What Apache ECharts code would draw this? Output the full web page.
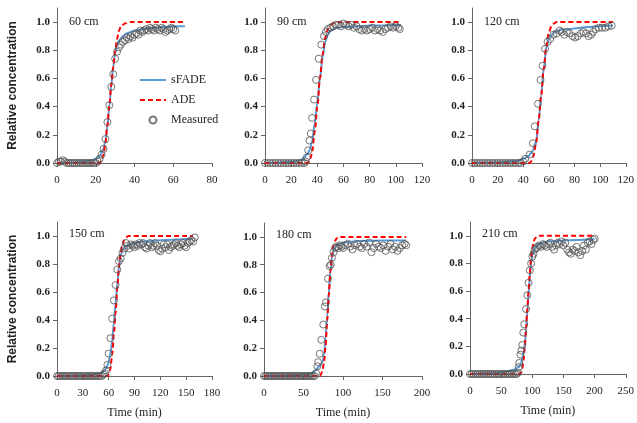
<!DOCTYPE html>
<html>
<head>
<meta charset="utf-8">
<script src="https://cdn.jsdelivr.net/npm/echarts@6/dist/echarts.min.js"></script>
<style>
html, body { margin: 0; padding: 0; background: #fff; }
#chart { width: 637px; height: 423px; }
</style>
</head>
<body>
<div id="chart"></div>
<script>
// panel labels (depth)
var depths = ['60 cm', '90 cm', '120 cm', '150 cm', '180 cm', '210 cm'];
var xMaxes = [80, 120, 120, 180, 200, 250];
var xSteps = [20, 20, 20, 30, 50, 50];
var yTicks = [0, 0.2, 0.4, 0.6, 0.8, 1.0];

// measured [time, C/C0]
var meas60 = [[0,0.0],[1,0.01],[2,0.01],[3,0.02],[4,0.01],[5,0],[6,0],[7,0],[8,0],[9,0],[10,0],[11,0],[12,0],[13,0],[14,0],[15,0],[16,0],[17,0],[18,0],[19,0],[20,0],[21,0.01],[22,0.03],[23,0.06],[24,0.1],[25,0.17],[26,0.29],[27,0.41],[28,0.54],[29,0.63],[30,0.74],[31,0.79],[32,0.82],[33,0.84],[34,0.86],[35,0.87],[36,0.89],[37,0.88],[38,0.9],[39,0.89],[40,0.91],[41,0.92],[42,0.91],[43,0.94],[44,0.93],[45,0.94],[46,0.95],[47,0.94],[48,0.96],[49,0.95],[50,0.94],[51,0.96],[52,0.95],[53,0.94],[54,0.96],[55,0.95],[56,0.93],[57,0.94],[58,0.95],[59,0.96],[60,0.95],[61,0.94]];
var meas90 = [[0,0],[2,0],[4,0],[6,0],[8,0],[10,0],[12,0],[14,0],[16,0],[18,0],[20,0],[22,0],[24,0],[26,0],[28,0],[30,0],[31,0.01],[32,0.04],[33,0.09],[34,0.16],[35,0.21],[36,0.32],[37.5,0.45],[39,0.59],[41,0.74],[43,0.84],[45,0.9],[46.5,0.93],[48,0.95],[50,0.96],[52,0.97],[54,0.98],[56,0.98],[58,0.97],[60,0.99],[62,0.98],[64,0.97],[66,0.98],[68,0.96],[70,0.97],[72,0.95],[74,0.94],[76,0.95],[78,0.94],[80,0.95],[82,0.96],[84,0.94],[86,0.95],[88,0.94],[90,0.93],[92,0.95],[94,0.96],[96,0.97],[98,0.96],[100,0.97],[102,0.96],[103,0.95]];
var meas120 = [[0,0],[2,0],[4,0],[6,0],[8,0],[10,0],[12,0],[14,0],[16,0],[18,0],[20,0],[22,0],[24,0],[26,0],[28,0],[30,0],[32,0],[34,0],[36,0],[38,0],[40,0.01],[41.5,0.03],[45,0.06],[47.5,0.14],[49,0.26],[51.5,0.42],[53.5,0.59],[55,0.69],[57,0.81],[59,0.86],[61,0.88],[63.5,0.91],[66,0.92],[68.5,0.94],[70,0.93],[72,0.91],[74,0.93],[76,0.92],[78.5,0.9],[80.5,0.89],[82.5,0.9],[85,0.92],[87,0.93],[89,0.92],[91,0.9],[93,0.91],[94.5,0.93],[96.5,0.95],[99,0.96],[101.5,0.96],[104,0.96],[106.5,0.97],[109,0.975]];
var meas150 = [[0,0],[2,0],[4,0],[6,0],[8,0],[10,0],[12,0],[14,0],[16,0],[18,0],[20,0],[22,0],[24,0],[26,0],[28,0],[30,0],[32,0],[34,0],[36,0],[38,0],[40,0],[42,0],[44,0],[46,0],[48,0],[50,0],[52,0],[54,0.01],[55.5,0.02],[57,0.04],[58.5,0.08],[60,0.16],[62,0.27],[64,0.41],[66,0.54],[68,0.65],[70,0.76],[72,0.82],[74,0.84],[76,0.88],[78,0.91],[80,0.95],[82,0.93],[84,0.91],[86,0.94],[88,0.93],[90,0.92],[92,0.94],[94,0.93],[96,0.95],[98,0.94],[100,0.95],[102,0.92],[104,0.91],[106,0.93],[108,0.95],[110,0.92],[112,0.93],[114,0.95],[116,0.93],[118,0.9],[120,0.89],[122,0.91],[124,0.94],[126,0.92],[128,0.94],[130,0.9],[132,0.92],[134,0.93],[136,0.94],[138,0.95],[140,0.93],[142,0.92],[144,0.94],[146,0.95],[148,0.93],[150,0.92],[152,0.95],[154,0.96],[156,0.97],[158,0.96],[160,0.99]];
var meas180 = [[0,0],[2,0],[4,0],[6,0],[8,0],[10,0],[12,0],[14,0],[16,0],[18,0],[20,0],[22,0],[24,0],[26,0],[28,0],[30,0],[32,0],[34,0],[36,0],[38,0],[40,0],[42,0],[44,0],[46,0],[48,0],[50,0],[52,0],[54,0],[56,0],[58,0],[60,0],[62,0],[64,0],[66,0.02],[67.5,0.07],[68.5,0.1],[70.5,0.16],[72.5,0.26],[75,0.37],[77,0.5],[78.5,0.53],[81,0.7],[83,0.79],[84.5,0.8],[86,0.85],[88,0.89],[90,0.92],[92,0.93],[94,0.92],[96,0.94],[98,0.93],[100,0.92],[103,0.94],[106,0.95],[109,0.93],[112,0.91],[115,0.94],[118,0.95],[121,0.93],[124,0.92],[127,0.95],[130,0.93],[133,0.96],[136,0.89],[139,0.92],[142,0.95],[145,0.93],[148,0.92],[151,0.94],[154,0.9],[157,0.93],[160,0.95],[163,0.91],[166,0.93],[169,0.9],[172,0.92],[175,0.94],[178,0.95],[180,0.94]];
var meas210 = [[0,0],[3,0],[6,0],[9,0],[12,0],[15,0],[18,0],[21,0],[24,0],[27,0],[30,0],[33,0],[36,0],[39,0],[42,0],[45,0],[48,0],[51,0],[54,0],[57,0],[60,0],[63,0],[66,0],[69,0],[72,0],[75,0],[77,0.01],[78,0.05],[79,0.08],[81,0.14],[82.5,0.17],[84,0.21],[85.5,0.3],[87,0.36],[90,0.47],[92,0.57],[94,0.66],[96,0.75],[98,0.8],[100,0.85],[102,0.87],[104,0.9],[106,0.91],[108,0.92],[111,0.93],[114,0.92],[117,0.94],[120,0.93],[123,0.92],[126,0.94],[129,0.95],[132,0.92],[135,0.9],[138,0.93],[141,0.95],[144,0.94],[147,0.96],[150,0.93],[153,0.95],[156,0.9],[159,0.88],[162,0.87],[165,0.9],[168,0.89],[171,0.92],[174,0.88],[177,0.86],[180,0.89],[183,0.93],[186,0.9],[189,0.95],[192,0.96],[195,0.94],[198,0.97],[200,0.98]];

// sFADE model curves
var sfade60 = [[0,0],[5,0.002],[10,0.005],[15,0.01],[18,0.02],[20,0.03],[22,0.05],[24,0.1],[25,0.16],[26,0.26],[27,0.4],[28,0.55],[29,0.68],[30,0.78],[31,0.84],[32,0.87],[34,0.9],[36,0.92],[40,0.94],[45,0.95],[50,0.96],[55,0.965],[60,0.97],[66,0.97]];
var sfade90 = [[0,0],[10,0.002],[20,0.008],[25,0.015],[28,0.025],[30,0.04],[32,0.06],[34,0.09],[36,0.15],[38,0.28],[40,0.43],[42,0.6],[44,0.75],[46,0.86],[48,0.91],[50,0.94],[55,0.96],[60,0.965],[70,0.97],[80,0.975],[104,0.98]];
var sfade120 = [[0,0],[20,0.003],[30,0.01],[35,0.015],[40,0.03],[44,0.05],[47,0.08],[50,0.15],[52,0.3],[54,0.48],[56,0.67],[58,0.82],[60,0.88],[62,0.91],[65,0.93],[70,0.945],[80,0.955],[90,0.965],[100,0.97],[110,0.975]];
var sfade150 = [[0,0],[20,0.002],[40,0.008],[50,0.02],[55,0.04],[58,0.07],[60,0.1],[62,0.16],[64,0.25],[66,0.38],[68,0.52],[70,0.66],[72,0.78],[74,0.86],[76,0.9],[80,0.93],[90,0.95],[100,0.96],[120,0.97],[156,0.98]];
var sfade180 = [[0,0],[30,0.003],[50,0.01],[60,0.02],[65,0.04],[70,0.07],[74,0.1],[76,0.15],[78,0.27],[80,0.43],[82,0.6],[84,0.75],[86,0.85],[88,0.9],[92,0.94],[100,0.96],[120,0.97],[150,0.975],[180,0.975]];
var sfade210 = [[0,0],[40,0.005],[55,0.015],[70,0.03],[78,0.05],[82,0.08],[86,0.15],[88,0.22],[90,0.32],[92,0.45],[94,0.58],[96,0.7],[98,0.8],[100,0.86],[104,0.91],[110,0.94],[120,0.955],[140,0.965],[170,0.97],[200,0.975]];

// ADE model curves
var ade60 = [[0,0],[22,0],[23,0.02],[24,0.06],[25,0.14],[26,0.27],[27,0.41],[28,0.55],[29,0.68],[30,0.79],[31,0.88],[32,0.94],[33,0.97],[35,0.99],[38,1.0],[66,1.0]];
var ade90 = [[0,0],[33,0],[34,0.01],[35,0.04],[36,0.08],[38,0.22],[40,0.4],[42,0.6],[44,0.77],[46,0.89],[48,0.95],[50,0.98],[53,0.995],[56,1.0],[104,1.0]];
var ade120 = [[0,0],[45,0],[46,0.01],[48,0.05],[50,0.14],[52,0.3],[54,0.48],[56,0.67],[58,0.83],[60,0.93],[62,0.97],[64,0.99],[66,1.0],[110,1.0]];
var ade150 = [[0,0],[59,0],[60,0.01],[62,0.05],[64,0.15],[66,0.3],[68,0.45],[70,0.62],[72,0.78],[74,0.88],[76,0.94],[78,0.97],[80,0.99],[83,1.0],[158,1.0]];
var ade180 = [[0,0],[71,0],[72,0.01],[74,0.04],[76,0.1],[78,0.22],[80,0.4],[82,0.58],[84,0.75],[86,0.87],[88,0.94],[90,0.97],[92,0.99],[95,1.0],[180,1.0]];
var ade210 = [[0,0],[80,0],[82,0.01],[84,0.04],[86,0.1],[88,0.2],[90,0.33],[92,0.47],[94,0.6],[96,0.73],[98,0.84],[100,0.91],[102,0.95],[104,0.98],[107,0.99],[110,1.0],[200,1.0]];

var measAll = [meas60, meas90, meas120, meas150, meas180, meas210];
var sfadeAll = [sfade60, sfade90, sfade120, sfade150, sfade180, sfade210];
var adeAll = [ade60, ade90, ade120, ade150, ade180, ade210];

// layout of the 6 plot boxes
var boxes = [
  {left: 57, top: 8, width: 155, height: 155},
  {left: 265, top: 8, width: 157, height: 155},
  {left: 472, top: 8, width: 157, height: 155},
  {left: 57, top: 222, width: 155, height: 154},
  {left: 264, top: 223, width: 158, height: 153},
  {left: 470, top: 222, width: 157, height: 152}
];

var serif = 'Liberation Serif';
var grids = [], xAxes = [], yAxes = [], series = [], titles = [];

boxes.forEach(function (b, i) {
  grids.push({left: b.left, top: b.top, width: b.width, height: b.height});
  xAxes.push({
    type: 'value', gridIndex: i, min: 0, max: xMaxes[i], interval: xSteps[i],
    name: i >= 3 ? 'Time (min)' : '',
    nameLocation: 'middle', nameGap: 31,
    nameTextStyle: {fontFamily: serif, fontSize: 12, color: '#222'},
    axisLine: {lineStyle: {color: '#666', width: 1}},
    axisTick: {show: true, length: 4, lineStyle: {color: '#666'}},
    axisLabel: {fontFamily: serif, fontSize: 11, color: '#222', margin: 12},
    splitLine: {show: false}
  });
  yAxes.push({
    type: 'value', gridIndex: i, min: 0, max: 1.1,
    name: (i === 0 || i === 3) ? 'Relative concentration' : '',
    nameLocation: 'middle', nameGap: 38, nameRotate: 90,
    nameTextStyle: {fontFamily: 'Liberation Sans', fontSize: 12, fontWeight: 'bold', color: '#222'},
    axisLine: {show: true, lineStyle: {color: '#666', width: 1}},
    axisTick: {show: true, length: 4, customValues: yTicks, lineStyle: {color: '#666'}},
    axisLabel: {
      customValues: yTicks, fontFamily: serif, fontSize: 11, fontWeight: 'bold', color: '#222', margin: 7,
      formatter: function (v) { return v.toFixed(1); }
    },
    splitLine: {show: false}
  });
  titles.push({
    text: depths[i], left: b.left + 12, top: b.top + (i < 3 ? 8 : 6), padding: 0,
    textStyle: {fontFamily: serif, fontSize: 12, fontWeight: 'normal', color: '#222'}
  });
  series.push({
    name: 'sFADE', type: 'line', xAxisIndex: i, yAxisIndex: i,
    data: sfadeAll[i], symbol: 'none', smooth: 0.3, smoothMonotone: 'x',
    lineStyle: {color: '#5b9bd5', width: 2}, itemStyle: {color: '#5b9bd5'}, z: 2
  });
  series.push({
    name: 'ADE', type: 'line', xAxisIndex: i, yAxisIndex: i,
    data: adeAll[i], symbol: 'none', smooth: 0.3, smoothMonotone: 'x',
    lineStyle: {color: '#ff0000', width: 2, type: [5, 3]}, itemStyle: {color: '#ff0000'}, z: 3
  });
  series.push({
    name: 'Measured', type: 'scatter', xAxisIndex: i, yAxisIndex: i,
    data: measAll[i], symbol: 'circle', symbolSize: 7,
    itemStyle: {color: 'rgba(255,255,255,0)', borderColor: '#555', borderWidth: 1}, z: 4
  });
});

var chart = echarts.init(document.getElementById('chart'));
chart.setOption({
  animation: false,
  title: titles,
  legend: {
    data: [
      {name: 'sFADE', itemStyle: {opacity: 0}},
      {name: 'ADE', itemStyle: {opacity: 0}},
      {name: 'Measured'}
    ],
    orient: 'vertical', left: 139, top: 74, padding: 0,
    itemWidth: 26, itemHeight: 7, itemGap: 8,
    textStyle: {fontFamily: serif, fontSize: 12, color: '#222'}
  },
  grid: grids,
  xAxis: xAxes,
  yAxis: yAxes,
  series: series
});
</script>
</body>
</html>
